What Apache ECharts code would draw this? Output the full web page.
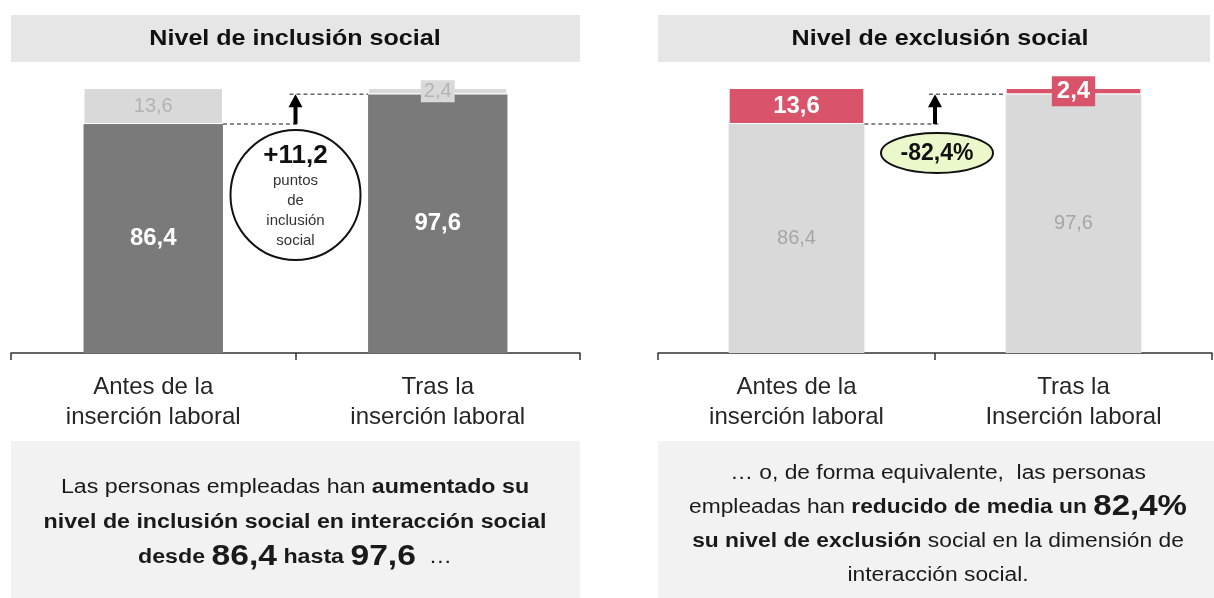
<!DOCTYPE html>
<html>
<head>
<meta charset="utf-8">
<script src="https://cdn.jsdelivr.net/npm/echarts@6/dist/echarts.min.js"></script>
<style>
  html, body { margin: 0; padding: 0; background: #fff; }
  #main { width: 1214px; height: 598px; }
</style>
</head>
<body>
<div id="main"></div>
<script>
// datos
var categoriasInclusion = ['Antes de la\ninserción laboral', 'Tras la\ninserción laboral'];
var categoriasExclusion = ['Antes de la\ninserción laboral', 'Tras la\nInserción laboral'];
var nivelInclusion = [86.4, 97.6];
var nivelExclusion = [13.6, 2.4];
var cambioPuntos = '+11,2';
var cambioPct = '-82,4%';

var FONT = '"Liberation Sans", Arial, sans-serif';
var GRIS_OSCURO = '#7a7a7a';
var GRIS_CLARO = '#d9d9d9';
var ROJO = '#d9536a';

function coma(v) { return v.toFixed(1).replace('.', ','); }

var chart = echarts.init(document.getElementById('main'));

function ejeX(idx, cats) {
  return {
    type: 'category',
    gridIndex: idx,
    data: cats,
    axisLine: { lineStyle: { color: '#333', width: 1.5 } },
    axisTick: { show: true, length: 7, lineStyle: { color: '#333', width: 1.5 } },
    axisLabel: { fontFamily: FONT, fontSize: 24, color: '#262626', lineHeight: 30, margin: 19 }
  };
}
function ejeY(idx) {
  return { type: 'value', gridIndex: idx, min: 0, max: 100, show: false, splitLine: { show: false } };
}

var option = {
  animation: false,
  textStyle: { fontFamily: FONT },
  grid: [
    { left: 11, right: 634, top: 88, bottom: 245 },
    { left: 658, right: 2, top: 88, bottom: 245 }
  ],
  xAxis: [ejeX(0, categoriasInclusion), ejeX(1, categoriasExclusion)],
  yAxis: [ejeY(0), ejeY(1)],
  series: [
    {
      type: 'bar', xAxisIndex: 0, yAxisIndex: 0, stack: 'inc', barWidth: '49%',
      data: nivelInclusion,
      itemStyle: { color: GRIS_OSCURO },
      label: { show: true, position: 'inside', color: '#fff', fontSize: 24, fontWeight: 'bold', fontFamily: FONT,
        formatter: function (p) { return coma(p.value); } }
    },
    {
      type: 'bar', xAxisIndex: 0, yAxisIndex: 0, stack: 'inc', barWidth: '49%',
      data: nivelExclusion,
      itemStyle: { color: GRIS_CLARO, borderColor: '#fff', borderWidth: 1 },
      label: { show: true, position: 'inside', color: '#b3b3b3', fontSize: 20, fontFamily: FONT,
        backgroundColor: GRIS_CLARO, padding: [1, 3],
        formatter: function (p) { return coma(p.value); } }
    },
    {
      type: 'bar', xAxisIndex: 1, yAxisIndex: 1, stack: 'exc', barWidth: '49%',
      data: nivelInclusion,
      itemStyle: { color: GRIS_CLARO },
      label: { show: true, position: 'inside', color: '#a6a6a6', fontSize: 20, fontFamily: FONT,
        formatter: function (p) { return coma(p.value); } }
    },
    {
      type: 'bar', xAxisIndex: 1, yAxisIndex: 1, stack: 'exc', barWidth: '49%',
      data: nivelExclusion,
      itemStyle: { color: ROJO, borderColor: '#fff', borderWidth: 1 },
      label: { show: true, position: 'inside', color: '#fff', fontSize: 24, fontWeight: 'bold', fontFamily: FONT,
        backgroundColor: ROJO, padding: [3, 5],
        formatter: function (p) { return coma(p.value); } }
    }
  ]
};
chart.setOption(option);

// anotaciones calculadas a partir de las escalas
function anotaciones(idx) {
  var p0 = chart.convertToPixel({ xAxisIndex: idx, yAxisIndex: idx }, [0, nivelInclusion[0]]);
  var p1 = chart.convertToPixel({ xAxisIndex: idx, yAxisIndex: idx }, [1, nivelInclusion[1]]);
  var banda = p1[0] - p0[0];
  var medio = (p0[0] + p1[0]) / 2;
  var ancho = banda * 0.49;
  var y0 = p0[1], y1 = p1[1];
  var dash = { stroke: '#666', lineWidth: 1.5, lineDash: [4, 3] };
  return [
    { type: 'line', shape: { x1: p0[0] + ancho / 2, y1: y0, x2: medio + 4, y2: y0 }, style: dash, z: 10 },
    { type: 'line', shape: { x1: medio - 6, y1: y1, x2: p1[0] - ancho / 2, y2: y1 }, style: dash, z: 10 },
    { type: 'line', shape: { x1: medio, y1: y0, x2: medio, y2: y1 + 10 }, style: { stroke: '#000', lineWidth: 4 }, z: 11 },
    { type: 'polygon', shape: { points: [[medio - 7, y1 + 13], [medio + 7, y1 + 13], [medio, y1]] }, style: { fill: '#000' }, z: 11 }
  ];
}

var a0 = anotaciones(0);
var a1 = anotaciones(1);
var c0 = chart.convertToPixel({ xAxisIndex: 0, yAxisIndex: 0 }, [0, nivelInclusion[0]]);
var c1 = chart.convertToPixel({ xAxisIndex: 0, yAxisIndex: 0 }, [1, nivelInclusion[1]]);
var medioIzq = (c0[0] + c1[0]) / 2;
var e0 = chart.convertToPixel({ xAxisIndex: 1, yAxisIndex: 1 }, [0, nivelInclusion[0]]);
var e1 = chart.convertToPixel({ xAxisIndex: 1, yAxisIndex: 1 }, [1, nivelInclusion[1]]);
var medioDer = (e0[0] + e1[0]) / 2;

var graficos = [
  // cajas de título
  { type: 'rect', shape: { x: 11, y: 15, width: 569, height: 47 }, style: { fill: '#e6e6e6' }, z: 1 },
  { type: 'text', x: 295, y: 39, scaleX: 1.14, style: { text: 'Nivel de inclusión social', font: 'bold 22px ' + FONT, fill: '#111', align: 'center', verticalAlign: 'middle' }, z: 2 },
  { type: 'rect', shape: { x: 658, y: 15, width: 552, height: 47 }, style: { fill: '#e6e6e6' }, z: 1 },
  { type: 'text', x: 940, y: 39, scaleX: 1.14, style: { text: 'Nivel de exclusión social', font: 'bold 22px ' + FONT, fill: '#111', align: 'center', verticalAlign: 'middle' }, z: 2 },
  // círculo
  { type: 'circle', shape: { cx: medioIzq, cy: c0[1] + 71, r: 65 }, style: { fill: '#fff', stroke: '#111', lineWidth: 2 }, z: 9 },
  { type: 'text', x: medioIzq, y: c0[1] + 72, z: 12, style: {
      text: '{g|' + cambioPuntos + '}\n{p|puntos}\n{p|de}\n{p|inclusión}\n{p|social}',
      align: 'center', verticalAlign: 'middle',
      rich: {
        g: { font: 'bold 26px ' + FONT, fill: '#111', lineHeight: 30, align: 'center' },
        p: { font: '15px ' + FONT, fill: '#333', lineHeight: 20, align: 'center' }
      }
  } },
  // elipse
  { type: 'ellipse', shape: { cx: medioDer + 2, cy: e0[1] + 29, rx: 56, ry: 20 }, style: { fill: '#ebf8cc', stroke: '#111', lineWidth: 2 }, z: 9 },
  { type: 'text', x: medioDer + 2, y: e0[1] + 30, z: 12, style: { text: cambioPct, font: 'bold 23px ' + FONT, fill: '#111', align: 'center', verticalAlign: 'middle' } },
  // cajas de texto inferiores
  { type: 'rect', shape: { x: 11, y: 441, width: 569, height: 157 }, style: { fill: '#f2f2f2' }, z: 1 },
  { type: 'text', x: 295, y: 522, scaleX: 1.16, z: 2, style: {
      text: 'Las personas empleadas han {b|aumentado su}\n{b|nivel de inclusión social en interacción social}\n{b|desde }{n|86,4}{b| hasta }{n|97,6}{r|  …}',
      align: 'center', verticalAlign: 'middle', font: '20px ' + FONT, fill: '#1a1a1a', lineHeight: 35,
      rich: {
        b: { font: 'bold 20px ' + FONT, fill: '#1a1a1a', lineHeight: 35 },
        n: { font: 'bold 29px ' + FONT, fill: '#1a1a1a', lineHeight: 35 },
        r: { font: '20px ' + FONT, fill: '#1a1a1a', lineHeight: 35 }
      }
  } },
  { type: 'rect', shape: { x: 658, y: 441, width: 556, height: 157 }, style: { fill: '#f2f2f2' }, z: 1 },
  { type: 'text', x: 938, y: 524, scaleX: 1.14, z: 2, style: {
      text: '… o, de forma equivalente,  las personas\nempleadas han {b|reducido de media un }{n|82,4%}\n{b|su nivel de exclusión} social en la dimensión de\ninteracción social.',
      align: 'center', verticalAlign: 'middle', font: '20px ' + FONT, fill: '#1a1a1a', lineHeight: 34,
      rich: {
        b: { font: 'bold 20px ' + FONT, fill: '#1a1a1a', lineHeight: 34 },
        n: { font: 'bold 29px ' + FONT, fill: '#1a1a1a', lineHeight: 34 }
      }
  } }
];

chart.setOption({ graphic: graficos.concat(a0, a1) });
</script>
</body>
</html>
